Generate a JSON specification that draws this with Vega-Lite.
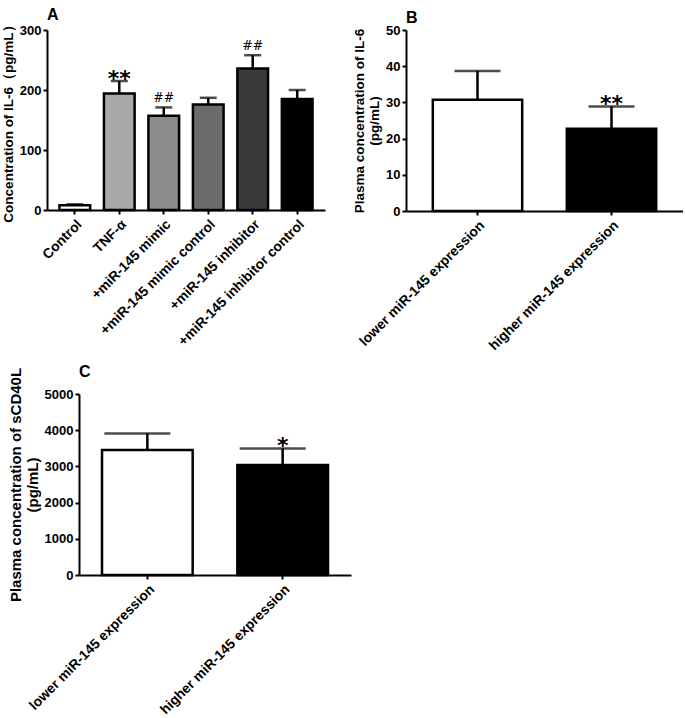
{
  "$schema": "https://vega.github.io/schema/vega-lite/v6.json",
  "background": "white",
  "padding": {"left": 1, "top": 6, "right": 0, "bottom": 0},
  "config": {
    "view": {"stroke": null},
    "axis": {"domainColor": "black", "domainWidth": 2, "tickColor": "black", "tickWidth": 2, "tickSize": 4, "labelPadding": 2, "labelFont": "Liberation Sans", "labelFontWeight": "bold", "labelFontSize": 13, "labelColor": "black", "titleFont": "Liberation Sans", "titleFontWeight": "bold", "titleFontSize": 13.5, "titleColor": "black", "grid": false, "labelOverlap": false},
    "axisX": {"labelFontSize": 13.8, "labelAngle": -45, "labelPadding": 3, "title": null},
    "title": {"font": "Liberation Sans", "fontSize": 16, "fontWeight": "bold", "anchor": "start", "frame": "group", "color": "black"}
  },
  "spacing": 11,
  "resolve": {"scale": {"fill": "independent"}},
  "vconcat": [
    {
      "spacing": 27,
      "resolve": {"scale": {"fill": "independent"}},
      "hconcat": [
        {
          "title": {"text": "A", "offset": -5},
          "width": 278,
          "height": 180,
          "data": {"values": [
            {"group": "Control", "mean": 8, "upper": 9.5, "star": "", "hash": ""},
            {"group": "TNF-α", "mean": 194, "upper": 215, "star": "**", "hash": ""},
            {"group": "+miR-145 mimic", "mean": 157, "upper": 171, "star": "", "hash": "##"},
            {"group": "+miR-145 mimic control", "mean": 176, "upper": 187, "star": "", "hash": ""},
            {"group": "+miR-145 inhibitor", "mean": 236, "upper": 258, "star": "", "hash": "##"},
            {"group": "+miR-145 inhibitor control", "mean": 185, "upper": 200, "star": "", "hash": ""}
          ]},
          "encoding": {
            "x": {"field": "group", "type": "nominal", "sort": null, "scale": {"paddingInner": 0.31, "paddingOuter": 0.28}}
          },
          "layer": [
            {"mark": {"type": "rule", "strokeWidth": 2.5, "color": "black"},
             "encoding": {"y": {"field": "mean", "type": "quantitative", "title": "Concentration of IL-6（pg/mL）", "scale": {"domain": [0, 300]}, "axis": {"values": [0, 100, 200, 300]}}, "y2": {"field": "upper"}}},
            {"mark": {"type": "tick", "thickness": 2.5, "size": 17, "color": "black"},
             "encoding": {"y": {"field": "upper", "type": "quantitative", "title": "Concentration of IL-6（pg/mL）", "scale": {"domain": [0, 300]}, "axis": {"values": [0, 100, 200, 300]}}}},
            {"mark": {"type": "bar", "stroke": "black", "strokeWidth": 2.5},
             "encoding": {"y": {"field": "mean", "type": "quantitative", "title": "Concentration of IL-6（pg/mL）", "scale": {"domain": [0, 300]}, "axis": {"values": [0, 100, 200, 300]}},
               "fill": {"field": "group", "type": "nominal", "legend": null, "scale": {"domain": ["Control", "TNF-α", "+miR-145 mimic", "+miR-145 mimic control", "+miR-145 inhibitor", "+miR-145 inhibitor control"], "range": ["#ffffff", "#a9a9a9", "#8b8b8b", "#6b6b6b", "#3a3a3a", "#000000"]}}}},
            {"mark": {"type": "text", "font": "DejaVu Sans", "fontSize": 22, "fontWeight": "bold", "baseline": "alphabetic", "dy": 5, "color": "black"},
             "encoding": {"y": {"field": "upper", "type": "quantitative", "title": "Concentration of IL-6（pg/mL）", "scale": {"domain": [0, 300]}, "axis": {"values": [0, 100, 200, 300]}}, "text": {"field": "star"}}},
            {"mark": {"type": "text", "font": "DejaVu Serif", "fontSize": 12.5, "baseline": "alphabetic", "dy": -5, "color": "black"},
             "encoding": {"y": {"field": "upper", "type": "quantitative", "title": "Concentration of IL-6（pg/mL）", "scale": {"domain": [0, 300]}, "axis": {"values": [0, 100, 200, 300]}}, "text": {"field": "hash"}}}
          ]
        },
        {
          "title": {"text": "B", "offset": -2},
          "width": 277,
          "height": 181,
          "data": {"values": [
            {"group": "lower miR-145 expression", "mean": 30.7, "upper": 38.7, "star": ""},
            {"group": "higher miR-145 expression", "mean": 22.7, "upper": 28.9, "star": "**"}
          ]},
          "encoding": {
            "x": {"field": "group", "type": "nominal", "sort": null, "scale": {"paddingInner": 0.333, "paddingOuter": 0.2}}
          },
          "layer": [
            {"mark": {"type": "rule", "strokeWidth": 2.5, "color": "black"},
             "encoding": {"y": {"field": "mean", "type": "quantitative", "title": ["Plasma concentration of IL-6", "(pg/mL)"], "scale": {"domain": [0, 50]}, "axis": {"values": [0, 10, 20, 30, 40, 50]}}, "y2": {"field": "upper"}}},
            {"mark": {"type": "tick", "thickness": 2.5, "size": 46, "color": "black"},
             "encoding": {"y": {"field": "upper", "type": "quantitative", "title": ["Plasma concentration of IL-6", "(pg/mL)"], "scale": {"domain": [0, 50]}, "axis": {"values": [0, 10, 20, 30, 40, 50]}}}},
            {"mark": {"type": "bar", "stroke": "black", "strokeWidth": 2.5},
             "encoding": {"y": {"field": "mean", "type": "quantitative", "title": ["Plasma concentration of IL-6", "(pg/mL)"], "scale": {"domain": [0, 50]}, "axis": {"values": [0, 10, 20, 30, 40, 50]}},
               "fill": {"field": "group", "type": "nominal", "legend": null, "scale": {"domain": ["lower miR-145 expression", "higher miR-145 expression"], "range": ["#ffffff", "#000000"]}}}},
            {"mark": {"type": "text", "font": "DejaVu Sans", "fontSize": 22, "fontWeight": "bold", "baseline": "alphabetic", "dy": 5, "color": "black"},
             "encoding": {"y": {"field": "upper", "type": "quantitative", "title": ["Plasma concentration of IL-6", "(pg/mL)"], "scale": {"domain": [0, 50]}, "axis": {"values": [0, 10, 20, 30, 40, 50]}}, "text": {"field": "star"}}}
          ]
        }
      ]
    },
    {
      "spacing": -40,
      "resolve": {"scale": {"fill": "independent"}},
      "hconcat": [
        {
          "width": 1,
          "height": 1,
          "data": {"values": [{}]},
          "mark": {"type": "text", "text": ""},
          "encoding": {}
        },
        {
          "title": {"text": "C", "offset": -13},
          "width": 272,
          "height": 181,
          "data": {"values": [
            {"group": "lower miR-145 expression", "mean": 3453, "upper": 3912, "star": ""},
            {"group": "higher miR-145 expression", "mean": 3039, "upper": 3497, "star": "*"}
          ]},
          "encoding": {
            "x": {"field": "group", "type": "nominal", "sort": null, "scale": {"paddingInner": 0.33, "paddingOuter": 0.17}}
          },
          "layer": [
            {"mark": {"type": "rule", "strokeWidth": 2.5, "color": "black"},
             "encoding": {"y": {"field": "mean", "type": "quantitative", "title": ["Plasma concentration of sCD40L", "(pg/mL)"], "scale": {"domain": [0, 5000]}, "axis": {"values": [0, 1000, 2000, 3000, 4000, 5000], "format": "d", "titleFontSize": 15}}, "y2": {"field": "upper"}}},
            {"mark": {"type": "tick", "thickness": 2.5, "size": 66, "color": "black", "xOffset": -10},
             "encoding": {"y": {"field": "upper", "type": "quantitative", "title": ["Plasma concentration of sCD40L", "(pg/mL)"], "scale": {"domain": [0, 5000]}, "axis": {"values": [0, 1000, 2000, 3000, 4000, 5000], "format": "d", "titleFontSize": 15}}}},
            {"mark": {"type": "bar", "stroke": "black", "strokeWidth": 2.5},
             "encoding": {"y": {"field": "mean", "type": "quantitative", "title": ["Plasma concentration of sCD40L", "(pg/mL)"], "scale": {"domain": [0, 5000]}, "axis": {"values": [0, 1000, 2000, 3000, 4000, 5000], "format": "d", "titleFontSize": 15}},
               "fill": {"field": "group", "type": "nominal", "legend": null, "scale": {"domain": ["lower miR-145 expression", "higher miR-145 expression"], "range": ["#ffffff", "#000000"]}}}},
            {"mark": {"type": "text", "font": "DejaVu Sans", "fontSize": 22, "fontWeight": "bold", "baseline": "alphabetic", "dy": 5, "color": "black"},
             "encoding": {"y": {"field": "upper", "type": "quantitative", "title": ["Plasma concentration of sCD40L", "(pg/mL)"], "scale": {"domain": [0, 5000]}, "axis": {"values": [0, 1000, 2000, 3000, 4000, 5000], "format": "d", "titleFontSize": 15}}, "text": {"field": "star"}}}
          ]
        }
      ]
    }
  ]
}
